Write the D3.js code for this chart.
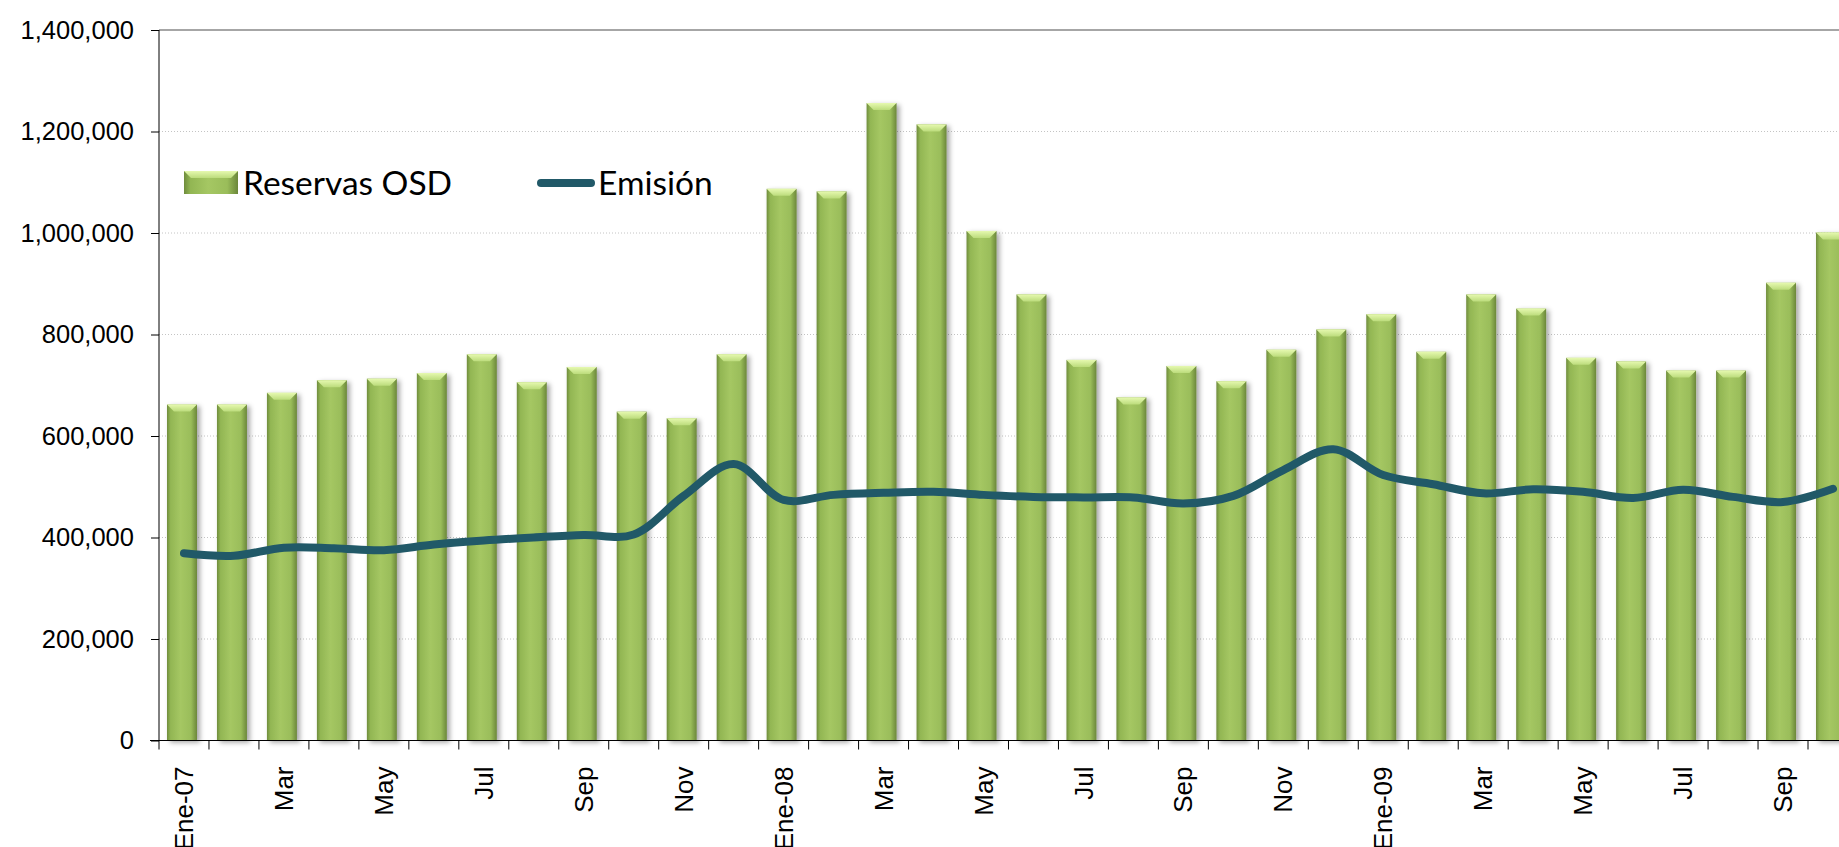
<!DOCTYPE html>
<html>
<head>
<meta charset="utf-8">
<script src="https://cdn.jsdelivr.net/npm/d3@7"></script>
<style>
  body { margin: 0; background: #fff; overflow: hidden; }
  svg { display: block; }
</style>
</head>
<body>
<div id="chart"></div>
<script>
// months shown on the x axis (Ene-07 .. Oct-09, the chart is cut at the right edge)
var months = ["2007-01","2007-02","2007-03","2007-04","2007-05","2007-06","2007-07","2007-08","2007-09","2007-10","2007-11","2007-12",
              "2008-01","2008-02","2008-03","2008-04","2008-05","2008-06","2008-07","2008-08","2008-09","2008-10","2008-11","2008-12",
              "2009-01","2009-02","2009-03","2009-04","2009-05","2009-06","2009-07","2009-08","2009-09","2009-10"];
var tickLabels = ["Ene-07","","Mar","","May","","Jul","","Sep","","Nov","",
                  "Ene-08","","Mar","","May","","Jul","","Sep","","Nov","",
                  "Ene-09","","Mar","","May","","Jul","","Sep",""];
// Reservas OSD (bars)
var reservas = [662000, 662000, 685000, 710000, 713000, 724000, 761000, 706000, 736000, 648000, 635000, 761000,
                1087000, 1082000, 1256000, 1214000, 1004000, 879000, 750000, 676000, 738000, 708000, 770000, 810000,
                840000, 766000, 879000, 851000, 754000, 747000, 729000, 729000, 902000, 1001000];
// Emisión (line)
var emision = [369000, 364000, 380000, 379000, 375000, 386000, 394000, 400000, 405000, 406000, 482000, 545000,
               474000, 484000, 488000, 490000, 484000, 480000, 479000, 479000, 467000, 482000, 533000, 574000,
               523000, 505000, 487000, 495000, 490000, 478000, 494000, 480000, 470000, 496000];
var yTicks = [0, 200000, 400000, 600000, 800000, 1000000, 1200000, 1400000];

var areaWidth = 1839, areaHeight = 847;
var plotLeft = 159, plotTop = 30, plotBottom = 740.5;
var step = 49.97;

var svg = d3.select("#chart").append("svg")
    .attr("width", areaWidth).attr("height", areaHeight);

var defs = svg.append("defs");

// bar body gradient (darker edges, light center)
var bodyGrad = defs.append("linearGradient").attr("id", "barBody")
    .attr("x1", "0").attr("x2", "1").attr("y1", "0").attr("y2", "0");
[["0%", "#6f8c3c"], ["12%", "#92b653"], ["45%", "#a5c763"], ["80%", "#9abd5a"], ["100%", "#6b873a"]].forEach(function(s) {
    bodyGrad.append("stop").attr("offset", s[0]).attr("stop-color", s[1]);
});
// bevel on top of bar
var bevelGrad = defs.append("linearGradient").attr("id", "barBevel")
    .attr("x1", "0").attr("x2", "0").attr("y1", "0").attr("y2", "1");
bevelGrad.append("stop").attr("offset", "0%").attr("stop-color", "#e6f9b0");
bevelGrad.append("stop").attr("offset", "100%").attr("stop-color", "#bcdc7c");

var shadow = defs.append("filter").attr("id", "barShadow")
    .attr("x", "-30%").attr("y", "-5%").attr("width", "170%").attr("height", "115%");
shadow.append("feDropShadow").attr("dx", 3).attr("dy", 2).attr("stdDeviation", 2.5)
    .attr("flood-color", "#000").attr("flood-opacity", 0.35);

var xScale = d3.scaleBand().domain(months)
    .range([plotLeft, plotLeft + step * months.length])
    .paddingInner(0.4).paddingOuter(0.2);

var yScale = d3.scaleLinear().domain([0, 1400000]).range([plotBottom, plotTop]);

// gridlines
svg.append("g")
    .selectAll("line")
    .data(yTicks.filter(function(d) { return d > 0; }))
    .enter()
    .append("line")
    .attr("x1", plotLeft)
    .attr("x2", areaWidth)
    .attr("y1", function(d) { return yScale(d); })
    .attr("y2", function(d) { return yScale(d); })
    .style("stroke", function(d) { return d == 1400000 ? "#a6a6a6" : "#c4c4c4"; })
    .style("stroke-width", function(d) { return d == 1400000 ? 2 : 1; })
    .style("stroke-dasharray", function(d) { return d == 1400000 ? null : "1,2"; });

// bars
var bars = svg.append("g").selectAll("g")
    .data(reservas)
    .enter()
    .append("g")
    .attr("filter", "url(#barShadow)");

bars.append("rect")
    .attr("x", function(d, i) { return xScale(months[i]) - 2; })
    .attr("y", function(d) { return yScale(d); })
    .attr("width", xScale.bandwidth())
    .attr("height", function(d) { return plotBottom - yScale(d); })
    .style("fill", "url(#barBody)");

bars.append("polygon")
    .attr("points", function(d, i) {
        var x0 = xScale(months[i]) - 2, x1 = x0 + xScale.bandwidth(), y0 = yScale(d), b = 7;
        return [[x0, y0], [x1, y0], [x1 - b, y0 + b], [x0 + b, y0 + b]].join(" ");
    })
    .style("fill", "url(#barBevel)");

// emision line
var line = d3.line()
    .x(function(d, i) { return xScale(months[i]) + xScale.bandwidth() / 2; })
    .y(function(d) { return yScale(d); })
    .curve(d3.curveCatmullRom.alpha(0.5));

svg.append("path")
    .datum(emision)
    .attr("d", line)
    .style("fill", "none")
    .style("stroke", "#215968")
    .style("stroke-width", 8)
    .style("stroke-linecap", "round")
    .style("stroke-linejoin", "round");

// y axis
var yAxis = d3.axisLeft(yScale)
    .tickValues(yTicks)
    .tickSize(8)
    .tickPadding(17)
    .tickFormat(d3.format(","));

var gy = svg.append("g").attr("transform", "translate(" + plotLeft + ",0)").call(yAxis);
gy.select(".domain").attr("d", "M0," + plotTop + "V" + plotBottom).style("stroke", "#000");
gy.selectAll(".tick line").style("stroke", "#000");
gy.selectAll("text")
    .style("font-family", "'Liberation Sans', Arial, sans-serif")
    .style("font-size", "25.5px")
    .style("fill", "#000");

// x axis
var xAxis = d3.axisBottom(xScale).tickSize(0).tickFormat(function(d, i) { return tickLabels[i]; });
var gx = svg.append("g").attr("transform", "translate(0," + plotBottom + ")").call(xAxis);
gx.select(".domain").remove();
gx.append("line")
    .attr("x1", plotLeft - 9).attr("x2", areaWidth)
    .attr("y1", 0).attr("y2", 0)
    .style("stroke", "#000").style("stroke-width", 1.2);
gx.selectAll(".boundary")
    .data(d3.range(months.length + 1))
    .enter()
    .append("line")
    .attr("class", "boundary")
    .attr("x1", function(i) { return plotLeft + i * xScale.step(); })
    .attr("x2", function(i) { return plotLeft + i * xScale.step(); })
    .attr("y1", 0).attr("y2", 9)
    .style("stroke", "#000");
gx.selectAll(".tick text")
    .attr("transform", "rotate(-90)")
    .attr("x", -26)
    .attr("y", 0)
    .attr("dy", "0.35em")
    .style("text-anchor", "end")
    .style("font-family", "'Liberation Sans', Arial, sans-serif")
    .style("font-size", "26px")
    .style("fill", "#000");

// legend
var legend = svg.append("g");
legend.append("rect")
    .attr("x", 184).attr("y", 171).attr("width", 54).attr("height", 23)
    .style("fill", "url(#barBody)");
legend.append("polygon")
    .attr("points", "184,171 238,171 231,178 191,178")
    .style("fill", "url(#barBevel)");
legend.append("text")
    .attr("x", 243).attr("y", 183).attr("dy", "0.35em")
    .text("Reservas OSD")
    .style("font-family", "Lato, 'Open Sans', sans-serif")
    .style("font-size", "33.5px")
    .style("fill", "#000");
legend.append("line")
    .attr("x1", 541).attr("x2", 591).attr("y1", 183).attr("y2", 183)
    .style("stroke", "#215968").style("stroke-width", 8).style("stroke-linecap", "round");
legend.append("text")
    .attr("x", 598).attr("y", 183).attr("dy", "0.35em")
    .text("Emisión")
    .style("font-family", "Lato, 'Open Sans', sans-serif")
    .style("font-size", "33.5px")
    .style("fill", "#000");
</script>
</body>
</html>
